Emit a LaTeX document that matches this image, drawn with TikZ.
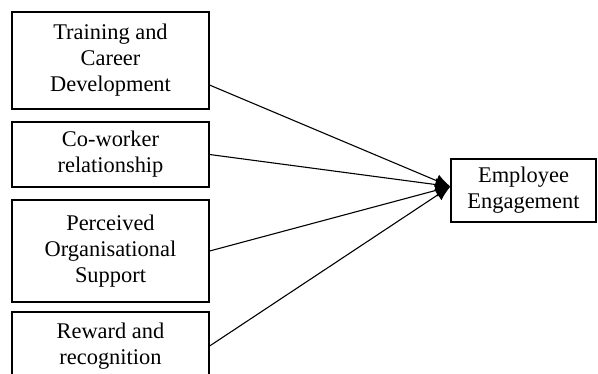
\documentclass[tikz,border=0pt]{standalone}
\usepackage{fontspec}
\setmainfont{Liberation Serif}
\usetikzlibrary{positioning,calc,arrows.meta}
\tikzset{
  factor/.style={draw,line width=1.2pt,minimum width=197bp,inner sep=0pt,align=center,
                 font=\fontsize{22.5}{26}\selectfont},
  link/.style={line width=1.1pt,-{Latex[length=15bp,width=13bp]}}
}
\begin{document}
\begin{tikzpicture}[x=1bp,y=-1bp]
  \useasboundingbox (0,0) rectangle (598,373);
  % left column of factors
  \node[factor,minimum height=97bp]  (train)  at (110.5,60.5) {Training and\\Career\\Development};
  \node[factor,minimum height=65bp]  (cowork) at (110.5,154.5) {Co-worker\\relationship};
  \node[factor,minimum height=102bp] (pos)    at (110.5,251) {Perceived\\Organisational\\Support};
  \node[factor,minimum height=68bp]  (reward) at (110.5,346) {Reward and\\recognition};
  % outcome
  \node[factor,minimum width=145bp,minimum height=63bp] (engage) at (523.5,190.5) {Employee\\Engagement};
  \coordinate (tip) at ($(engage.west)+(0,-4)$);
  \draw[link] ($(train.east)!0.5!(train.south east)$) -- (tip);
  \draw[link] (cowork.east) -- (tip);
  \draw[link] (pos.east) -- (tip);
  \draw[link] (reward.east) -- (tip);
\end{tikzpicture}
\end{document}
